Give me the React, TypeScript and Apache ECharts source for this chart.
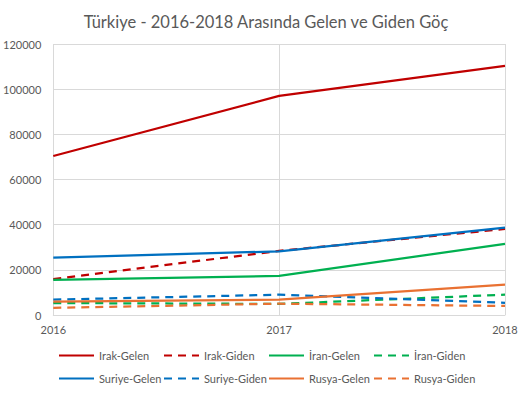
import React, { useEffect, useRef } from "react";
import * as echarts from "echarts";

const years = ["2016", "2017", "2018"];
const irakGelen = [70400, 97000, 110300];
const irakGiden = [15900, 28400, 38100];
const iranGelen = [15500, 17300, 31500];
const iranGiden = [5300, 4900, 9000];
const suriyeGelen = [25400, 28200, 38700];
const suriyeGiden = [6800, 9000, 5400];
const rusyaGelen = [5900, 6800, 13500];
const rusyaGiden = [3200, 5000, 4000];
const yTicks = [0, 20000, 40000, 60000, 80000, 100000, 120000];

const seriesDefs = [
  { name: "Irak-Gelen", data: irakGelen, color: "#C00000", dashed: false },
  { name: "Irak-Giden", data: irakGiden, color: "#C00000", dashed: true },
  { name: "İran-Gelen", data: iranGelen, color: "#00B050", dashed: false },
  { name: "İran-Giden", data: iranGiden, color: "#00B050", dashed: true },
  { name: "Suriye-Gelen", data: suriyeGelen, color: "#0070C0", dashed: false },
  { name: "Suriye-Giden", data: suriyeGiden, color: "#0070C0", dashed: true },
  { name: "Rusya-Gelen", data: rusyaGelen, color: "#E97132", dashed: false },
  { name: "Rusya-Giden", data: rusyaGiden, color: "#E97132", dashed: true },
];

const FONT = "Lato, 'Open Sans', sans-serif";

export default function App() {
  const ref = useRef<HTMLDivElement>(null);
  useEffect(() => {
    if (!ref.current) return;
    const chart = echarts.init(ref.current, undefined, { renderer: "svg" });
    const colX = [58, 163, 268, 373];
    const rowY = [350, 373];
    const legends = seriesDefs.map((s, i) => ({
      data: [s.name],
      left: colX[i % 4],
      top: rowY[Math.floor(i / 4)],
      itemWidth: 35,
      itemHeight: 14,
      itemGap: 4,
      padding: 0,
      itemStyle: { opacity: 0 },
      textStyle: { color: "#595959", fontSize: 11, fontFamily: FONT },
      selectedMode: false,
    }));
    chart.setOption({
      animation: false,
      backgroundColor: "#ffffff",
      title: {
        text: "Türkiye - 2016-2018 Arasında Gelen ve Giden Göç",
        left: "center",
        top: 8,
        textStyle: { color: "#595959", fontSize: 16.5, fontWeight: "normal", fontFamily: FONT },
      },
      legend: legends,
      grid: { left: 51, right: 27, top: 44, bottom: 82 },
      xAxis: {
        type: "category",
        data: years,
        boundaryGap: false,
        axisLine: { lineStyle: { color: "#d9d9d9" } },
        axisTick: { show: false },
        splitLine: { show: true, lineStyle: { color: "#d9d9d9" } },
        axisLabel: { color: "#595959", fontSize: 11, fontFamily: FONT, margin: 9 },
      },
      yAxis: {
        type: "value",
        min: yTicks[0],
        max: yTicks[yTicks.length - 1],
        interval: 20000,
        axisLine: { show: false },
        axisTick: { show: false },
        splitLine: { lineStyle: { color: "#d9d9d9" } },
        axisLabel: {
          color: "#595959",
          fontSize: 11,
          fontFamily: FONT,
          margin: 12,
          formatter: (v: number) => String(v),
        },
      },
      series: seriesDefs.map((s) => ({
        name: s.name,
        type: "line",
        data: s.data,
        symbol: "none",
        color: s.color,
        lineStyle: {
          color: s.color,
          width: 2.25,
          type: s.dashed ? [8, 6] : "solid",
        },
      })),
    });
    return () => chart.dispose();
  }, []);
  return <div ref={ref} style={{ width: 532, height: 397, position: "absolute", left: 0, top: 0 }} />;
}
